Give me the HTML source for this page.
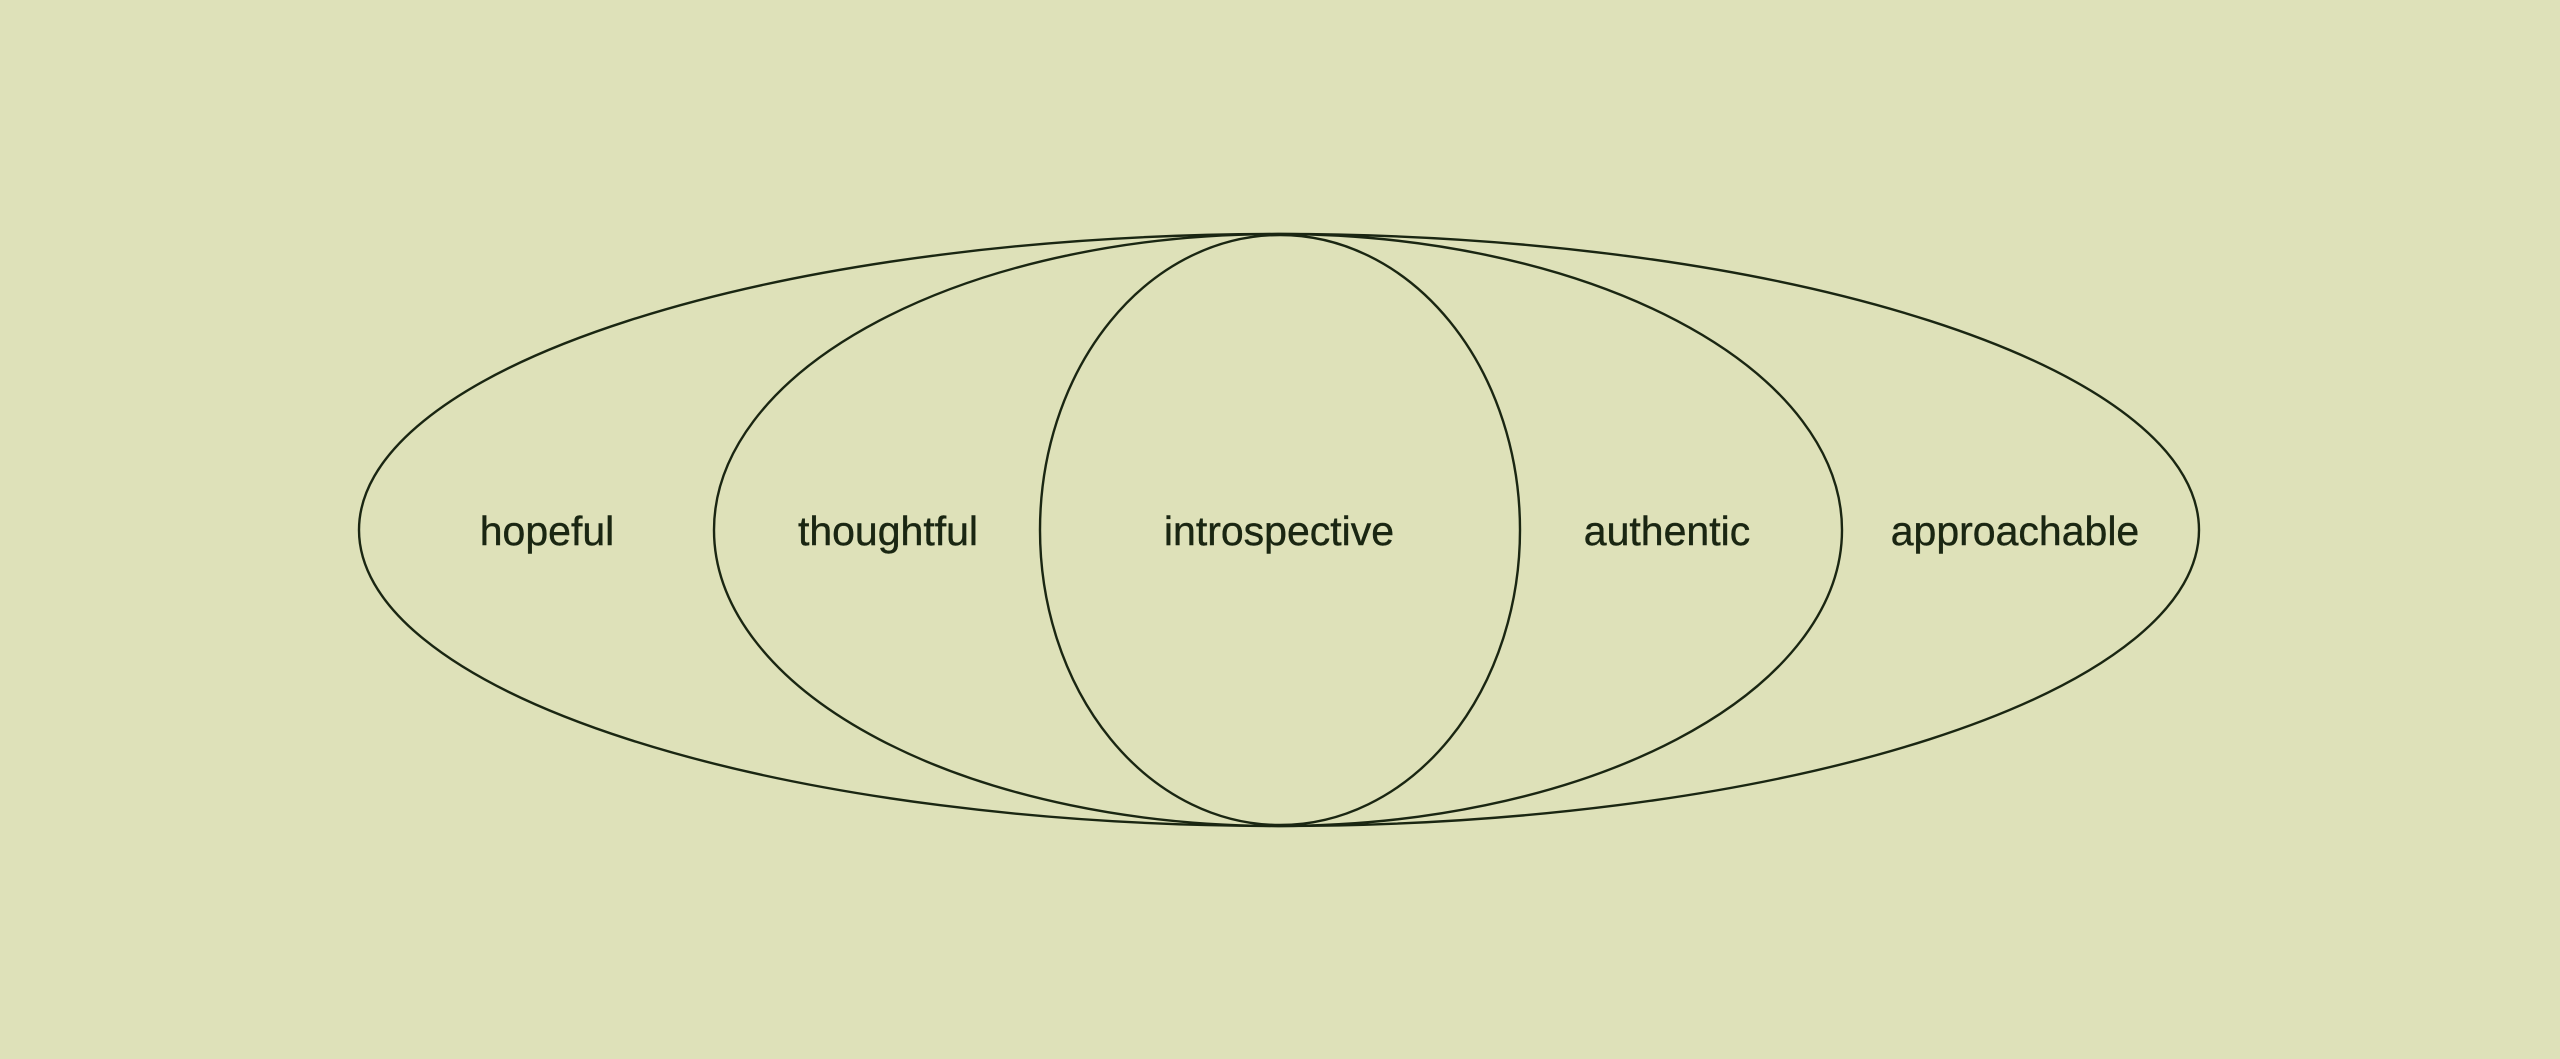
<!DOCTYPE html>
<html><head><style>
html,body{margin:0;padding:0;background:#dee1b9;}
svg{display:block}
text{font-family:"Liberation Sans",sans-serif;font-size:41px;letter-spacing:0px;fill:#1a2612;text-anchor:middle;stroke:#1a2612;stroke-width:0.4}
</style></head><body>
<svg width="2560" height="1059" viewBox="0 0 2560 1059">
<rect width="2560" height="1059" fill="#dee1b9"/>
<g fill="none" stroke="#1a2612" stroke-width="2.4">
<ellipse cx="1279" cy="530" rx="920" ry="296"/>
<ellipse cx="1278" cy="530" rx="564" ry="296"/>
<ellipse cx="1280" cy="530" rx="240" ry="295"/>
</g>
<text x="547" y="545">hopeful</text>
<text x="888" y="545">thoughtful</text>
<text x="1279" y="545">introspective</text>
<text x="1667" y="545">authentic</text>
<text x="2015" y="545">approachable</text>
</svg>
</body></html>
